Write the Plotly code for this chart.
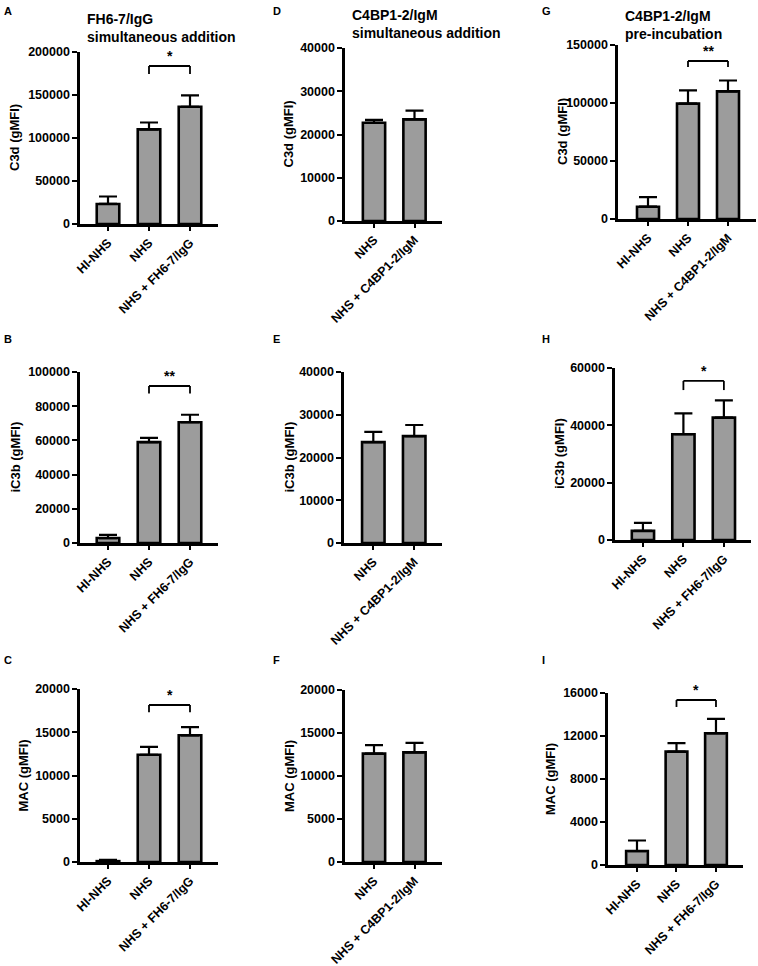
import plotly.graph_objects as go

W, H = 758, 966

# ---------------- data ----------------
cats_fh = ["HI-NHS", "NHS", "NHS + FH6-7/IgG"]
cats_c4_sim = ["NHS", "NHS + C4BP1-2/IgM"]
cats_c4_pre = ["HI-NHS", "NHS", "NHS + C4BP1-2/IgM"]

# A: C3d, FH6-7/IgG simultaneous
a_mean = [23300, 110000, 136300]
a_upper = [32000, 118000, 149500]
# B: iC3b, FH6-7/IgG simultaneous
b_mean = [2900, 59000, 70600]
b_upper = [4800, 61500, 75000]
# C: MAC, FH6-7/IgG simultaneous
c_mean = [100, 12400, 14650]
c_upper = [250, 13300, 15600]
# D: C3d, C4BP1-2/IgM simultaneous
d_mean = [22700, 23500]
d_upper = [23400, 25500]
# E: iC3b, C4BP1-2/IgM simultaneous
e_mean = [23600, 25000]
e_upper = [26000, 27600]
# F: MAC, C4BP1-2/IgM simultaneous
f_mean = [12600, 12750]
f_upper = [13600, 13850]
# G: C3d, C4BP1-2/IgM pre-incubation
g_mean = [10600, 99500, 110000]
g_upper = [18800, 110800, 119400]
# H: iC3b, pre-incubation
h_mean = [3200, 36900, 42700]
h_upper = [6000, 44200, 48700]
# I: MAC, pre-incubation
i_mean = [1300, 10550, 12250]
i_upper = [2280, 11330, 13600]

# tick values
ticks_a = [0, 50000, 100000, 150000, 200000]
ticks_b = [0, 20000, 40000, 60000, 80000, 100000]
ticks_c = [0, 5000, 10000, 15000, 20000]
ticks_d = [0, 10000, 20000, 30000, 40000]
ticks_e = [0, 10000, 20000, 30000, 40000]
ticks_f = [0, 5000, 10000, 15000, 20000]
ticks_g = [0, 50000, 100000, 150000]
ticks_h = [0, 20000, 40000, 60000]
ticks_i = [0, 4000, 8000, 12000, 16000]

# ---------------- layout config ----------------
panels = [
    ("A", cats_fh, a_mean, a_upper, ticks_a, "C3d (gMFI)", (80, 218, 52, 224), (-0.683, 2.683), 15, (2, 3), ("*", 183700, 174400)),
    ("B", cats_fh, b_mean, b_upper, ticks_b, "iC3b (gMFI)", (80, 218, 372, 543), (-0.683, 2.683), 15, (2, 331), ("**", 91800, 87500)),
    ("C", cats_fh, c_mean, c_upper, ticks_c, "MAC (gMFI)", (80, 218, 689, 862), (-0.683, 2.683), 23, (2, 652), ("*", 18150, 17300)),
    ("D", cats_c4_sim, d_mean, d_upper, ticks_d, "C3d (gMFI)", (345, 442, 48, 221), (-0.716, 1.679), 288, (271, 3), None),
    ("E", cats_c4_sim, e_mean, e_upper, ticks_e, "iC3b (gMFI)", (344, 442, 372, 543), (-0.716, 1.679), 289, (271, 331), None),
    ("F", cats_c4_sim, f_mean, f_upper, ticks_f, "MAC (gMFI)", (345, 442, 690, 862), (-0.716, 1.679), 289, (271, 652), None),
    ("G", cats_c4_pre, g_mean, g_upper, ticks_g, "C3d (gMFI)", (618, 756, 45, 219), (-0.75, 2.7), 562, (540, 3), ("**", 136200, 131000)),
    ("H", cats_fh, h_mean, h_upper, ticks_h, "iC3b (gMFI)", (615, 751, 368, 540), (-0.69, 2.67), 560, (540, 331), ("*", 55500, 52300)),
    ("I", cats_fh, i_mean, i_upper, ticks_i, "MAC (gMFI)", (608, 743, 693, 865), (-0.734, 2.684), 550, (540, 652), ("*", 15350, 14700)),
]

FONT = "Liberation Sans, Arial, sans-serif"
BAR_COLOR = "#9c9c9c"

fig = go.Figure()
annotations = []
shapes = []
layout_axes = {}

for idx, (name, cats, mean, upper, tv, ytitle, px, xr, ytx, letter, bracket) in enumerate(panels, start=1):
    l, r, t, b = px
    xa = "x" if idx == 1 else f"x{idx}"
    ya = "y" if idx == 1 else f"y{idx}"
    xkey = "xaxis" if idx == 1 else f"xaxis{idx}"
    ykey = "yaxis" if idx == 1 else f"yaxis{idx}"
    err = [u - m for u, m in zip(upper, mean)]
    fig.add_trace(go.Bar(
        x=cats, y=mean, xaxis=xa, yaxis=ya,
        width=0.55,
        marker=dict(color=BAR_COLOR, line=dict(color="black", width=2.6)),
        error_y=dict(type="data", symmetric=False, array=err,
                     arrayminus=[0] * len(mean), color="black",
                     thickness=2.2, width=9),
        showlegend=False, hoverinfo="skip",
    ))
    layout_axes[xkey] = dict(
        domain=[l / W, r / W], anchor=ya, type="category", automargin=False,
        range=list(xr), showline=True, linewidth=2.6, linecolor="black",
        ticks="outside", ticklen=4, tickwidth=2, tickcolor="black",
        tickangle=-45, showgrid=False, zeroline=False, fixedrange=True,
        tickfont=dict(family=FONT, size=12.5, color="black", weight="bold"),
    )
    layout_axes[ykey] = dict(
        domain=[1 - b / H, 1 - t / H], anchor=xa, automargin=False,
        range=[0, tv[-1]], tickvals=tv, ticktext=[str(v) for v in tv],
        showline=True, linewidth=2.6, linecolor="black",
        ticks="outside", ticklen=5, tickwidth=2, tickcolor="black",
        showgrid=False, zeroline=False, fixedrange=True,
        tickfont=dict(family=FONT, size=12.5, color="black", weight="bold"),
    )
    annotations.append(dict(
        xref="paper", yref="paper", x=ytx / W, y=1 - ((t + b) / 2) / H,
        text=ytitle, textangle=-90, showarrow=False,
        xanchor="center", yanchor="middle",
        font=dict(family=FONT, size=13, color="black", weight="bold"),
    ))
    annotations.append(dict(
        xref="paper", yref="paper", x=letter[0] / W, y=1 - letter[1] / H,
        text=name, showarrow=False, xanchor="left", yanchor="top",
        font=dict(family=FONT, size=11, color="black", weight="bold"),
    ))
    if bracket is not None:
        star, ytop, ydrop = bracket
        for (x0, y0, x1, y1) in [(1, ytop, 2, ytop), (1, ytop, 1, ydrop), (2, ytop, 2, ydrop)]:
            shapes.append(dict(type="line", xref=xa, yref=ya,
                               x0=x0, y0=y0, x1=x1, y1=y1,
                               line=dict(color="black", width=1.8)))
        annotations.append(dict(
            xref=xa, yref=ya, x=1.5, y=ytop, text=star, showarrow=False,
            xanchor="center", yanchor="bottom", yshift=0,
            font=dict(family=FONT, size=14, color="black", weight="bold"),
        ))

titles = [
    ("FH6-7/IgG<br>simultaneous addition", 85, 9),
    ("C4BP1-2/IgM<br>simultaneous addition", 350, 5),
    ("C4BP1-2/IgM<br>pre-incubation", 623, 6),
]
for txt, x, y in titles:
    annotations.append(dict(
        xref="paper", yref="paper", x=x / W, y=1 - y / H, text=txt,
        showarrow=False, xanchor="left", yanchor="top", align="left",
        font=dict(family=FONT, size=14, color="black", weight="bold"),
    ))

fig.update_layout(
    width=W, height=H,
    margin=dict(l=0, r=0, t=0, b=0, pad=0, autoexpand=False),
    paper_bgcolor="white", plot_bgcolor="white",
    annotations=annotations, shapes=shapes, bargap=0.3,
    **layout_axes,
)

fig.write_html(
    "out.html",
    config={"displayModeBar": False, "staticPlot": True},
    post_script="document.body.style.margin='0';document.body.style.overflow='hidden';",
)
